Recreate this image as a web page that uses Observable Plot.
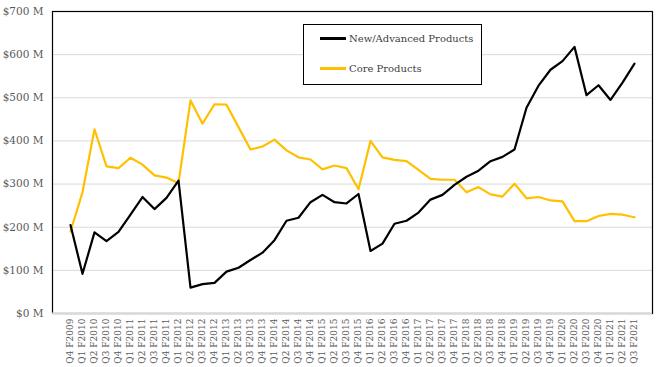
<!DOCTYPE html>
<html>
<head>
<meta charset="utf-8">
<script src="https://cdn.jsdelivr.net/npm/d3@7"></script>
<script src="https://cdn.jsdelivr.net/npm/@observablehq/plot@0.6"></script>
<style>
  html, body { margin: 0; padding: 0; background: #fff; }
  #wrap { position: relative; width: 659px; height: 367px; }
  #legend {
    position: absolute; left: 303px; top: 24px; width: 177px; height: 59px;
    border: 1px solid #000; background: #fff; box-sizing: content-box;
    font-family: "DejaVu Serif", serif; font-size: 10px; color: #404040;
  }
  .li { position: absolute; left: 0; display: flex; align-items: center; }
  .sw { display: inline-block; width: 26px; height: 2.5px; margin-left: 16px; margin-right: 3px; }
</style>
</head>
<body>
<div id="wrap">
  <div id="chart"></div>
  <div id="legend">
    <div class="li" style="top:8px"><span class="sw" style="background:#000"></span><span>New/Advanced Products</span></div>
    <div class="li" style="top:38px"><span class="sw" style="background:#FFC000"></span><span>Core Products</span></div>
  </div>
</div>
<script>
const quarters = [
  "Q4 F2009",
  "Q1 F2010","Q2 F2010","Q3 F2010","Q4 F2010",
  "Q1 F2011","Q2 F2011","Q3 F2011","Q4 F2011",
  "Q1 F2012","Q2 F2012","Q3 F2012","Q4 F2012",
  "Q1 F2013","Q2 F2013","Q3 F2013","Q4 F2013",
  "Q1 F2014","Q2 F2014","Q3 F2014","Q4 F2014",
  "Q1 F2015","Q2 F2015","Q3 F2015","Q4 F2015",
  "Q1 F2016","Q2 F2016","Q3 F2016","Q4 F2016",
  "Q1 F2017","Q2 F2017","Q3 F2017","Q4 F2017",
  "Q1 F2018","Q2 F2018","Q3 F2018","Q4 F2018",
  "Q1 F2019","Q2 F2019","Q3 F2019","Q4 F2019",
  "Q1 F2020","Q2 F2020","Q3 F2020","Q4 F2020",
  "Q1 F2021","Q2 F2021","Q3 F2021"
];
const newAdvanced = [205, 92, 188, 168, 189, 229, 270, 242, 268, 308, 60, 68, 71, 97, 106, 124, 141, 170, 215, 222, 258, 275, 258, 255, 277, 145, 162, 208, 215, 234, 264, 275, 298, 317, 331, 353, 363, 380, 477, 528, 565, 585, 618, 506, 529, 495, 535, 579];
const core = [190, 281, 427, 341, 337, 361, 345, 320, 315, 302, 494, 440, 485, 484, 432, 380, 387, 403, 378, 362, 357, 334, 343, 337, 288, 400, 362, 356, 353, 333, 312, 310, 310, 281, 293, 276, 271, 301, 267, 270, 262, 260, 214, 214, 226, 231, 229, 223];
const yTicks = [0, 100, 200, 300, 400, 500, 600, 700];

const newData = quarters.map((q, i) => ({q, v: newAdvanced[i]}));
const coreData = quarters.map((q, i) => ({q, v: core[i]}));

const chart = Plot.plot({
  width: 659,
  height: 367,
  marginLeft: 52,
  marginRight: 7,
  marginTop: 11,
  marginBottom: 54,
  style: {fontFamily: "DejaVu Serif, serif", fontSize: "9px", color: "#595959", background: "#fff"},
  x: {type: "point", domain: quarters, padding: 0.5, tickRotate: -90, tickSize: 0, tickPadding: 5, label: null},
  y: {domain: [0, 700], ticks: yTicks, tickFormat: d => `$${d} M`, tickSize: 0, tickPadding: 9, label: null},
  marks: [
    Plot.gridY(yTicks, {stroke: "#d9d9d9", strokeOpacity: 1}),
    Plot.frame({stroke: "#000", strokeWidth: 1.2}),
    Plot.ruleY([0], {stroke: "#d9d9d9", strokeWidth: 2}),
    Plot.line(coreData, {x: "q", y: "v", stroke: "#FFC000", strokeWidth: 2.2}),
    Plot.line(newData, {x: "q", y: "v", stroke: "#000", strokeWidth: 2.2})
  ]
});
document.getElementById("chart").appendChild(chart);
chart.querySelectorAll("text").forEach(t => {
  if (/^\$\d+ M$/.test(t.textContent.trim())) t.style.fontSize = "10.5px";
});
</script>
</body>
</html>
